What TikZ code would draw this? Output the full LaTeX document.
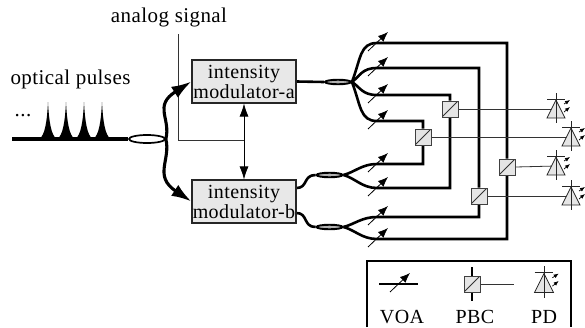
\documentclass[tikz,border=0pt]{standalone}
\usepackage{fontspec}
\setmainfont[LetterSpace=2]{Liberation Serif}
\usetikzlibrary{arrows.meta,
  positioning,
  shapes
}
\pgfdeclarelayer{background}
\pgfsetlayers{background,main}

\begin{document}
\begin{tikzpicture}[x=1pt,y=-1pt,
        textnode/.style={inner sep=0pt, font=\fontsize{21}{22}\selectfont},
        legendnode/.style={inner sep=0pt, anchor=base, font=\fontsize{20}{22}\selectfont},
        boxnode/.style={rectangle, draw=black!85, line width=1.1pt, fill=black!9, minimum width=104pt, minimum height=43pt, inner sep=0pt, align=center, font=\fontsize{20}{21}\selectfont},
        pbcnode/.style={rectangle, draw=black!75, line width=0.9pt, fill=black!10, minimum size=16pt, inner sep=0pt,
          path picture={\draw[black!80, line width=0.8pt] (path picture bounding box.south west) -- (path picture bounding box.north east);}},
        couplernode/.style={ellipse, draw=black, line width=1.7pt, fill=white, minimum width=36pt, minimum height=8pt, inner sep=0pt},
        thincoupler/.style={ellipse, draw=black, line width=1.9pt, fill=black!30, minimum width=26pt, minimum height=4.5pt, inner sep=0pt},
        fibre/.style={line width=2.6pt, line join=miter},
        thickfibre/.style={line width=3.1pt, line join=miter},
        thinline/.style={line width=0.8pt, black!80},
        bigarrow/.style={-{Latex[length=20pt,width=13pt]}},
        pics/voa/.style={code={\draw[line width=0.8pt, -{Latex[length=10pt,width=8pt]}] (-9,8) -- (11,-11);}},
        pics/pulse/.style={code={\fill (-9,0) .. controls (-3,-3) and (-1,-18) .. (0,-37) .. controls (1,-18) and (3,-3) .. (9,0) -- cycle;}},
        pics/photodiode/.style={code={
          \draw[black!85, line width=0.8pt, fill=black!10] (0,-9) -- (-9,9) -- (9,9) -- cycle;
          \draw[black!85, line width=0.8pt] (0,-16) -- (0,14);
          \draw[black!85, line width=0.8pt] (-9,-10) -- (9,-10);
          \draw[line width=0.7pt, -{Latex[length=5pt,width=4pt]}] (8,-5) -- (14,-9);
          \draw[line width=0.7pt, -{Latex[length=5pt,width=4pt]}] (8,3) -- (14,-2);
        }},
      ]
      \useasboundingbox (0,0) rectangle (585,327);

      % Nodes
      \node[textnode] (analog) at (169,17) {analog signal};
      \node[textnode] (optical) at (70.5,79) {optical pulses};
      \node[textnode, anchor=base] (dots) at (23,116) {...};

      \node[boxnode] (moda) at (244,81.5) {intensity\\[-1pt]modulator-a};
      \node[boxnode] (modb) at (244,201.5) {intensity\\[-1pt]modulator-b};

      \node[couplernode] (cplin) at (147,139) {};
      \node[thincoupler] (cpla) at (338,82) {};
      \node[thincoupler] (cplb) at (329.5,175) {};
      \node[thincoupler] (cplc) at (329.5,227) {};

      \node[pbcnode] (pbca) at (450,109) {};
      \node[pbcnode] (pbcb) at (423,137) {};
      \node[pbcnode] (pbcc) at (507,167) {};
      \node[pbcnode] (pbcd) at (479,196) {};

      \coordinate (fibrestart) at (12,139);
      \coordinate (signalstart) at (178,34);
      \coordinate (signalend) at (244,140);
      \coordinate (pda) at (556,109);
      \coordinate (pdb) at (571,137);
      \coordinate (pdc) at (556,166);
      \coordinate (pdd) at (571,196);
      \coordinate (voaa) at (377,43);
      \coordinate (voab) at (377,68);
      \coordinate (voac) at (377,95);
      \coordinate (voad) at (377,121);
      \coordinate (voae) at (377,164);
      \coordinate (voaf) at (377,188);
      \coordinate (voag) at (377,217);
      \coordinate (voah) at (377,239);

      % Lines
      \begin{pgfonlayer}{background}
      \draw[thickfibre] (fibrestart) -- (cplin.west);
      \draw[fibre] (moda.east) -- (cpla.west);
      \draw[fibre] (modb.east |- 0,188) .. controls (308,188) and (303,175) .. (cplb.west);
      \draw[fibre] (modb.east |- 0,213) .. controls (308,213) and (303,227) .. (cplc.west);

      \draw[fibre] (cpla.east) .. controls (361,58) and (360,43) .. (voaa) -| (pbcc.north);
      \draw[fibre] (cpla.east) .. controls (360,76) and (362,68) .. (voab) -| (pbcd.north);
      \draw[fibre] (cpla.east) .. controls (360,87) and (362,95) .. (voac) -| (pbca.north);
      \draw[fibre] (cpla.east) .. controls (361,106) and (360,121) .. (voad) -| (pbcb.north);

      \draw[fibre] (cplb.east) .. controls (355,172) and (362,164) .. (voae) -| (pbcb.south);
      \draw[fibre] (cplb.east) .. controls (355,178) and (362,188) .. (voaf) -| (pbca.south);
      \draw[fibre] (cplc.east) .. controls (355,224) and (362,217) .. (voag) -| (pbcd.south);
      \draw[fibre] (cplc.east) .. controls (355,230) and (362,239) .. (voah) -| (pbcc.south);

      \draw[thinline] (signalstart) |- (signalend);
      \draw[thinline] (pbca.east) -- (pda);
      \draw[thinline] (pbcb.east) -- (pdb);
      \draw[thinline] (pbcc.east) -- (pdc);
      \draw[thinline] (pbcd.east) -- (pdd);
      \end{pgfonlayer}

      \draw[thickfibre, bigarrow] (cplin.east) .. controls (171,118) and (153,106) .. (moda.west);
      \draw[thickfibre, bigarrow] (cplin.east) .. controls (171,160) and (153,176) .. (modb.west);
      \draw[thinline, black, {Latex[length=13pt,width=9pt]}-{Latex[length=13pt,width=9pt]}] (moda.south) -- (modb.north);

      \pic at (48,139) {pulse};
      \pic at (66,139) {pulse};
      \pic at (84,139) {pulse};
      \pic at (102,139) {pulse};

      \pic at (voaa) {voa};
      \pic at (voab) {voa};
      \pic at (voac) {voa};
      \pic at (voad) {voa};
      \pic at (voae) {voa};
      \pic at (voaf) {voa};
      \pic at (voag) {voa};
      \pic at (voah) {voa};

      \pic at (pda) {photodiode};
      \pic at (pdb) {photodiode};
      \pic at (pdc) {photodiode};
      \pic at (pdd) {photodiode};

      % Legend
      \draw[line width=2pt] (367,327) |- (571,261) -- (571,327);

      \node[pbcnode] (pbcl) at (472,284) {};
      \coordinate (voall) at (379,284);
      \coordinate (voalr) at (418,284);
      \coordinate (pbclt) at (472,267);
      \coordinate (pbclb) at (472,301);
      \coordinate (pbclr) at (514,284);
      \coordinate (pdl) at (544,283);
      \begin{pgfonlayer}{background}
      \draw[fibre] (voall) -- (voalr);
      \draw[fibre] (pbclt) -- (pbclb);
      \draw[thinline] (pbcl.east) -- (pbclr);
      \end{pgfonlayer}
      \pic at (399,284) {voa};
      \pic[scale=1.05] at (pdl) {photodiode};

      \node[legendnode] (voatext) at (402,323) {VOA};
      \node[legendnode] (pbctext) at (475,323) {PBC};
      \node[legendnode] (pdtext) at (544,323) {PD};
    \end{tikzpicture}
\end{document}
